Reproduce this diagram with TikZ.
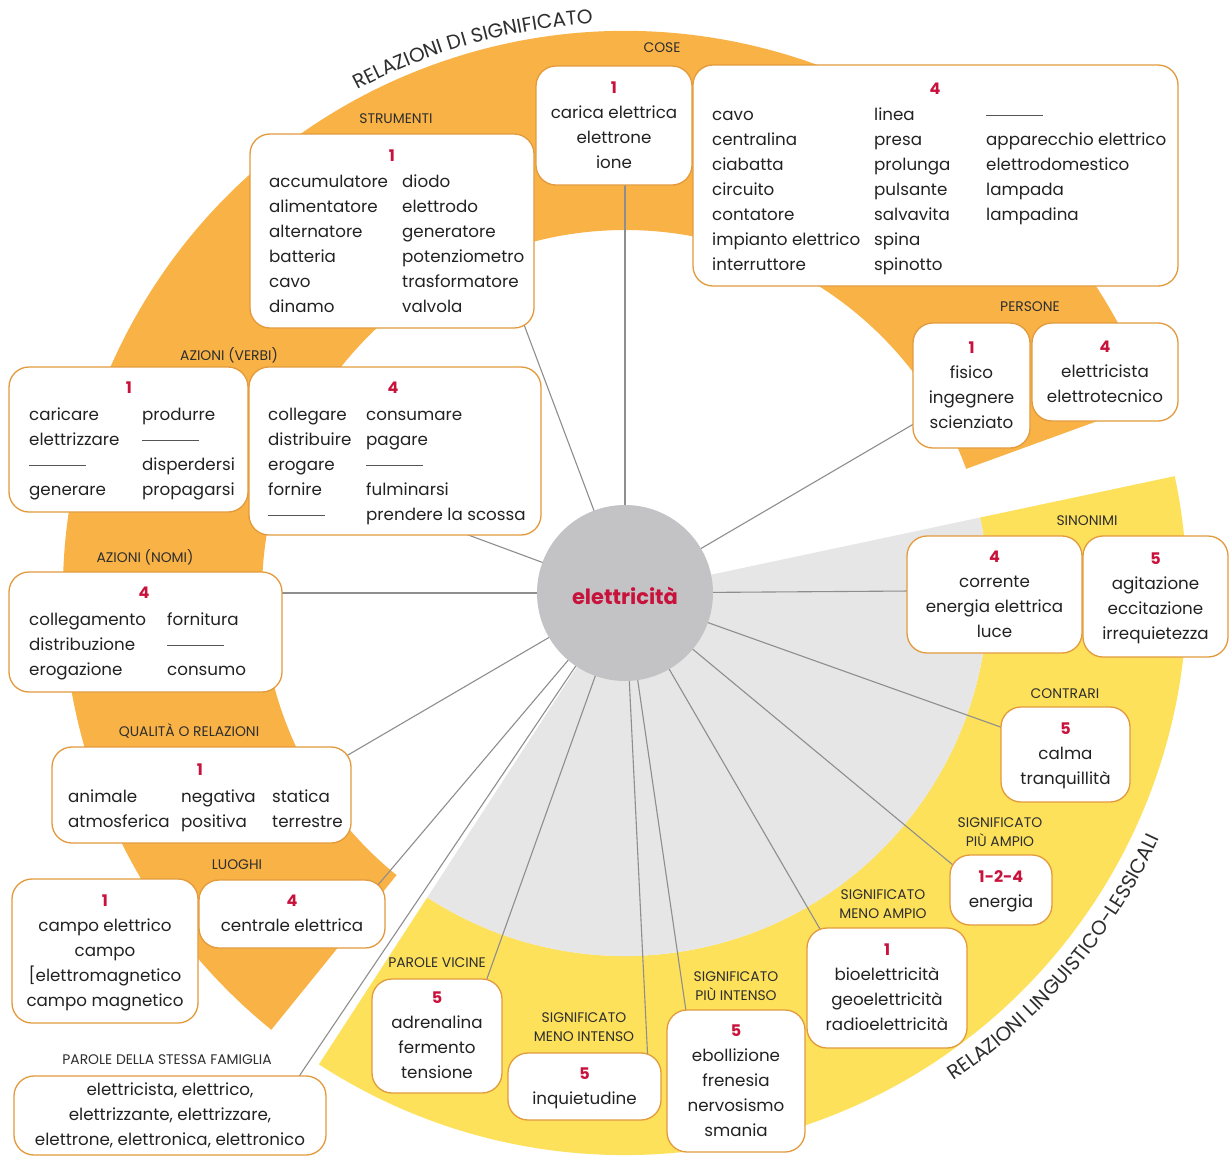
\documentclass[tikz,border=0pt]{standalone}
\usepackage{fontspec}
\setmainfont{Poppins}
\usetikzlibrary{calc,decorations.text}
\pgfdeclarelayer{paper}
\pgfdeclarelayer{rings}
\pgfdeclarelayer{links}
\pgfsetlayers{paper,rings,links,main}

\definecolor{ringorange}{HTML}{F8B246}
\definecolor{ringyellow}{HTML}{FDE15B}
\definecolor{sectorgrey}{HTML}{E6E6E6}
\definecolor{hubgrey}{HTML}{C3C3C5}
\definecolor{boxline}{HTML}{E39A3C}
\definecolor{numred}{HTML}{C8123C}
\definecolor{ink}{HTML}{222222}
\definecolor{labelink}{HTML}{2E2E2E}
\definecolor{connline}{HTML}{8E8E8E}
\definecolor{dashgrey}{HTML}{555555}

\newcommand\boxfont{\fontsize{16.7}{25}\selectfont}
\newcommand\tagfont{\fontsize{13.9}{19}\selectfont}
\newcommand\numfont{\fontsize{16}{25}\selectfont\bfseries}
\newcommand\hubfont{\fontsize{21}{26}\selectfont\bfseries}
\newcommand\arcfont{\fontsize{20}{20}\selectfont}
\newcommand\stk[1]{\begin{tabular}{@{}c@{}}#1\end{tabular}}
\newcommand\nmb[1]{{\numfont\color{numred}#1}}
\newcommand\dash{\textcolor{dashgrey}{\rule[4.6pt]{57pt}{0.8pt}}}

\begin{document}
\begin{tikzpicture}[x=1pt,y=1pt,
  box/.style={draw=boxline, line width=1.3pt, fill=white, rounded corners=20pt,
    inner sep=0pt, font=\boxfont, text=ink},
  tbl/.style={anchor=north west, inner sep=0pt, font=\boxfont, text=ink},
  numlbl/.style={inner sep=0pt, font=\numfont, text=numred},
  lbl/.style={inner sep=0pt, font=\tagfont, text=labelink, align=center},
  conn/.style={draw=connline, line width=1.1pt}]

\useasboundingbox (0,0) rectangle (1229,-1157);
\coordinate (c) at (625,-593);

% hub
\node[circle, fill=hubgrey, minimum size=176pt, inner sep=0pt] (hub) at (c) {};
\node[inner sep=0pt, font=\hubfont, text=numred] (hubt) at (625,-596) {elettricità};

% ---------- relazioni di significato ----------
\node[lbl] (tcose) at (662,-48) {COSE};
\node[lbl] (tstrum) at (396,-119) {STRUMENTI};
\node[lbl] (tpers) at (1030,-307) {PERSONE};
\node[lbl] (tazv) at (229,-355) {AZIONI (VERBI)};
\node[lbl] (tazn) at (145,-557) {AZIONI (NOMI)};
\node[lbl] (tqual) at (189,-731) {QUALITÀ O RELAZIONI};
\node[lbl] (tluo) at (237,-865) {LUOGHI};
\node[lbl] (tfam) at (167,-1060) {PAROLE DELLA STESSA FAMIGLIA};

\node[box, minimum width=284pt, minimum height=194pt] (strum) at (392,-231) {};
\node[numlbl] (strumn) at (392,-156) {1};
\node[tbl] (strumt) at (269,-169.5) {\begin{tabular}{@{}p{133pt}@{}l@{}}
accumulatore & diodo\\ alimentatore & elettrodo\\ alternatore & generatore\\
batteria & potenziometro\\ cavo & trasformatore\\ dinamo & valvola
\end{tabular}};

\node[box, minimum width=156pt, minimum height=119pt] (cose1) at (614,-125.5)
  {\stk{\nmb{1}\\carica elettrica\\elettrone\\ione}};

\node[box, minimum width=485pt, minimum height=221pt] (cose4) at (935.5,-175.5) {};
\node[numlbl] (cose4n) at (935,-89) {4};
\node[tbl] (cose4t) at (712,-102.5) {\begin{tabular}{@{}p{162pt}@{}p{112pt}@{}l@{}}
cavo & linea & \dash\\ centralina & presa & apparecchio elettrico\\
ciabatta & prolunga & elettrodomestico\\ circuito & pulsante & lampada\\
contatore & salvavita & lampadina\\ impianto elettrico & spina & \\
interruttore & spinotto &
\end{tabular}};

\node[box, minimum width=117pt, minimum height=125pt] (pers1) at (971.5,-385.5)
  {\stk{\nmb{1}\\fisico\\ingegnere\\scienziato}};
\node[box, minimum width=146pt, minimum height=98pt] (pers4) at (1105,-372)
  {\stk{\nmb{4}\\elettricista\\elettrotecnico}};

\node[box, minimum width=239pt, minimum height=145pt] (azv1) at (128.5,-439.5) {};
\node[numlbl] (azv1n) at (129,-388) {1};
\node[tbl] (azv1t) at (29,-402.5) {\begin{tabular}{@{}p{113pt}@{}l@{}}
caricare & produrre\\ elettrizzare & \dash\\ \dash & disperdersi\\ generare & propagarsi
\end{tabular}};

\node[box, minimum width=292pt, minimum height=168pt] (azv2) at (395,-451) {};
\node[numlbl] (azv2n) at (393,-388) {4};
\node[tbl] (azv2t) at (268,-402.5) {\begin{tabular}{@{}p{98pt}@{}l@{}}
collegare & consumare\\ distribuire & pagare\\ erogare & \dash\\
fornire & fulminarsi\\ \dash & prendere la scossa
\end{tabular}};

\node[box, minimum width=273pt, minimum height=120pt] (azn) at (145.5,-632) {};
\node[numlbl] (aznn) at (144,-593) {4};
\node[tbl] (aznt) at (29,-607.5) {\begin{tabular}{@{}p{138pt}@{}l@{}}
collegamento & fornitura\\ distribuzione & \dash\\ erogazione & consumo
\end{tabular}};

\node[box, minimum width=299pt, minimum height=96pt] (qual) at (201.5,-795) {};
\node[numlbl] (qualn) at (200,-770) {1};
\node[tbl] (qualt) at (68,-784.5) {\begin{tabular}{@{}p{113pt}@{}p{91pt}@{}l@{}}
animale & negativa & statica\\ atmosferica & positiva & terrestre
\end{tabular}};

\node[box, minimum width=186pt, minimum height=144pt] (luo1) at (105,-951)
  {\stk{\nmb{1}\\campo elettrico\\campo\\{}[elettromagnetico\\campo magnetico}};
\node[box, minimum width=186pt, minimum height=68pt] (luo4) at (292,-914)
  {\stk{\nmb{4}\\centrale elettrica}};

\node[box, minimum width=312pt, minimum height=79pt] (fam) at (170,-1115.5)
  {\stk{elettricista, elettrico,\\elettrizzante, elettrizzare,\\elettrone, elettronica, elettronico}};

% ---------- relazioni linguistico-lessicali ----------
\node[lbl] (tsin) at (1087,-521) {SINONIMI};
\node[lbl] (tcontr) at (1065,-694) {CONTRARI};
\node[lbl] (tamp) at (1000,-832.5) {SIGNIFICATO\\PIÙ AMPIO};
\node[lbl] (tmamp) at (883,-904.5) {SIGNIFICATO\\MENO AMPIO};
\node[lbl] (tpint) at (736,-986) {SIGNIFICATO\\PIÙ INTENSO};
\node[lbl] (tmint) at (584,-1027.5) {SIGNIFICATO\\MENO INTENSO};
\node[lbl] (tvic) at (437,-963) {PAROLE VICINE};

\node[box, minimum width=175pt, minimum height=117pt] (sin4) at (994.5,-594.5)
  {\stk{\nmb{4}\\corrente\\energia elettrica\\luce}};
\node[box, minimum width=145pt, minimum height=121pt] (sin5) at (1155.5,-596.5)
  {\stk{\nmb{5}\\agitazione\\eccitazione\\irrequietezza}};
\node[box, minimum width=129pt, minimum height=95pt] (contr) at (1065.5,-754.5)
  {\stk{\nmb{5}\\calma\\tranquillità}};
\node[box, minimum width=102pt, minimum height=70pt] (amp) at (1001,-890)
  {\stk{\nmb{1-2-4}\\energia}};
\node[box, minimum width=160pt, minimum height=120pt] (mamp) at (887,-988)
  {\stk{\nmb{1}\\bioelettricità\\geoelettricità\\radioelettricità}};
\node[box, minimum width=138pt, minimum height=142pt] (pint) at (736,-1081)
  {\stk{\nmb{5}\\ebollizione\\frenesia\\nervosismo\\smania}};
\node[box, minimum width=153pt, minimum height=67pt] (mint) at (584.5,-1086.5)
  {\stk{\nmb{5}\\inquietudine}};
\node[box, minimum width=130pt, minimum height=114pt] (pvic) at (437,-1036)
  {\stk{\nmb{5}\\adrenalina\\fermento\\tensione}};

% ---------- white sheet ----------
\begin{pgfonlayer}{paper}
\fill[white] (0,0) rectangle (1229,-1157);
\end{pgfonlayer}

% ---------- coloured rings ----------
\begin{pgfonlayer}{rings}
\fill[ringorange] ($(c)+(20:562pt)$) arc[start angle=20,end angle=231,radius=562pt]
  -- ($(c)+(231:363pt)$) arc[start angle=231,end angle=20,radius=363pt] -- cycle;
\fill[ringyellow] ($(c)+(-123:562pt)$) arc[start angle=-123,end angle=12,radius=562pt]
  -- ($(c)+(12:363pt)$) arc[start angle=12,end angle=-123,radius=363pt] -- cycle;
\fill[sectorgrey] (c) -- ($(c)+(-123:363pt)$) arc[start angle=-123,end angle=12,radius=363pt] -- cycle;
\end{pgfonlayer}

% ---------- spokes ----------
\begin{pgfonlayer}{links}
\draw[conn] (hub.center) -- ($(strum.south east)+(-11,5)$);
\draw[conn] (hub.center) -- ($(cose1.south)+(11,3)$);
\draw[conn] (hub.center) -- ($(pers1.west)+(3,-37.5)$);
\draw[conn] (hub.center) -- ($(azv2.south)+(67,3)$);
\draw[conn] (hub.center) -- ($(azn.east)+(-4,39)$);
\draw[conn] (hub.center) -- ($(qual.north east)+(-6,-10)$);
\draw[conn] (hub.center) -- ($(luo4.north east)+(-8,-6)$);
\draw[conn] (hub.center) -- ($(fam.north east)+(-29,-3)$);
\draw[conn] (hub.center) -- ($(sin4.west)+(4,3.5)$);
\draw[conn] (hub.center) -- ($(contr.west)+(3,26.5)$);
\draw[conn] (hub.center) -- ($(amp.north west)+(4,-11)$);
\draw[conn] (hub.center) -- ($(mamp.north west)+(15,-4)$);
\draw[conn] (hub.center) -- ($(pint.north west)+(20,-4)$);
\draw[conn] (hub.center) -- ($(mint.north east)+(-14,-4)$);
\draw[conn] (hub.center) -- ($(pvic.north east)+(-17,-4)$);
\end{pgfonlayer}

% ---------- curved headings ----------
\path[decorate, decoration={text along path, text align=left, text color=labelink,
  text={|\arcfont|RELAZIONI DI SIGNIFICATO}}]
  ($(c)+(118:570pt)$) arc[start angle=118,end angle=60,radius=570pt];
\path[decorate, decoration={text along path, text align=left, text color=labelink,
  text={|\arcfont|RELAZIONI LINGUISTICO-LESSICALI}}]
  ($(c)+(-56:588pt)$) arc[start angle=-56,end angle=5,radius=588pt];

\end{tikzpicture}
\end{document}
